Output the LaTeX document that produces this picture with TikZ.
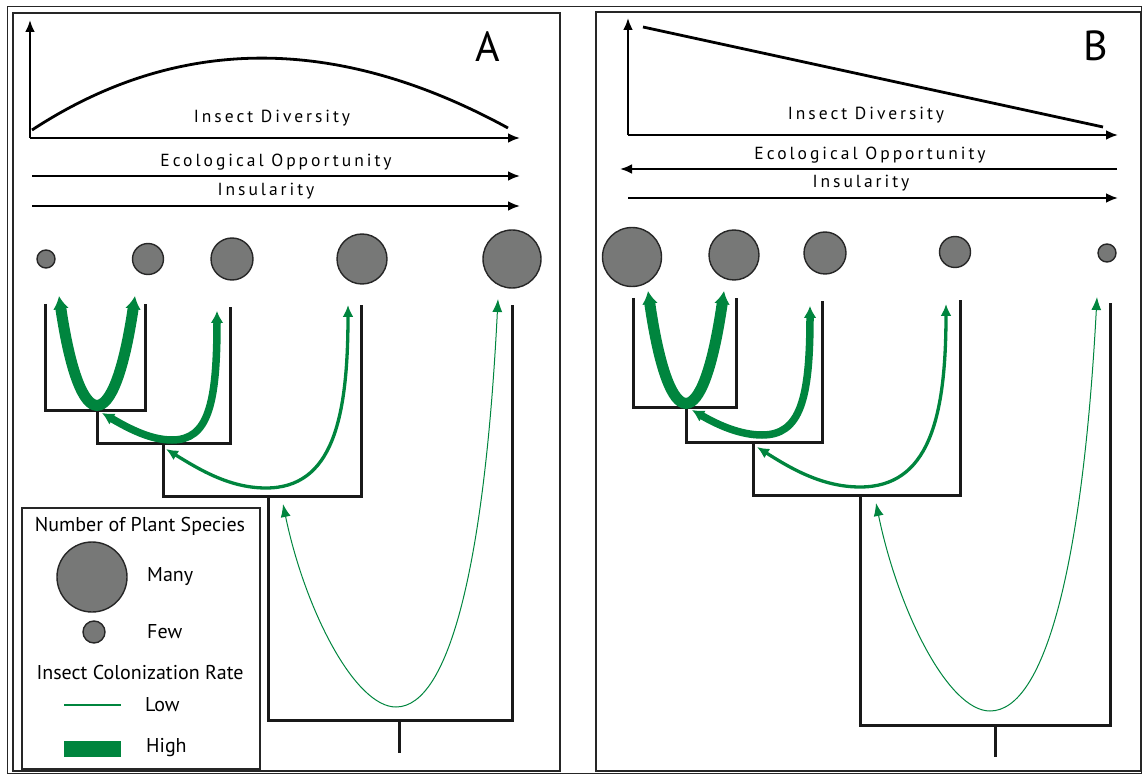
\documentclass[tikz,border=0pt]{standalone}
\usepackage{fontspec}
\setmainfont{PT Sans}
\usetikzlibrary{arrows.meta}
\definecolor{grn}{RGB}{0,133,62}
\definecolor{plantgray}{RGB}{119,120,119}
\begin{document}
\begin{tikzpicture}[x=1pt,y=-1pt,
  frame/.style={draw=black!85, line width=1.3pt},
  axis/.style={line width=2.8pt, -{Latex[length=12pt,width=10pt]}},
  branch/.style={draw=black!90, line width=3pt, line join=miter},
  plant/.style={circle, draw=black!85, line width=1.4pt, fill=plantgray, inner sep=0pt},
  spaced/.style={font=\fontsize{17.5}{17.5}\selectfont\addfontfeature{LetterSpace=17}},
  legtext/.style={font=\fontsize{20}{20}\selectfont, inner sep=0pt},
  hiarrow/.style={draw=grn, line width=11pt, {Latex[length=13pt,width=16pt]}-{Latex[length=13pt,width=16pt]}},
  midarrow/.style={draw=grn, line width=7.5pt, {Latex[length=12pt,width=13pt]}-{Latex[length=12pt,width=13pt]}},
  lowarrow/.style={draw=grn, line width=3.3pt, {Latex[length=12pt,width=11pt]}-{Latex[length=12pt,width=11pt]}},
  thinarrow/.style={draw=grn, line width=1pt, {Latex[length=13pt,width=10pt]}-{Latex[length=13pt,width=10pt]}},
  letter/.style={font=\fontsize{42}{42}\selectfont, inner sep=0pt}
]
\useasboundingbox (0,0) rectangle (1143,775);
% frames
\draw[frame, line width=1pt] (7,7) rectangle (1141,773);
\draw[frame] (13,13) rectangle (560,771);
\draw[frame] (596,12) rectangle (1141,771);

%%%%%%%%%%%%%%%% Panel A
\node[letter] (labA) at (488,47) {A};
\coordinate (Ao) at (30,138);
\coordinate (Ay) at (30,20);
\coordinate (Ax) at (520,138);
\draw[axis] (Ao) -- (Ay);
\draw[axis] (Ao) -- (Ax);
\coordinate (Ac0) at (32,130);
\coordinate (Ac1) at (508,128);
\draw[line width=2.8pt] (Ac0) .. controls (177,35) and (336,34) .. (Ac1);
\node[spaced] (AdivT) at (272,118) {Insect Diversity};
\node[spaced] (AecoT) at (276,162) {Ecological Opportunity};
\coordinate (Ae0) at (32,176); \coordinate (Ae1) at (520,176);
\draw[axis] (Ae0) -- (Ae1);
\node[spaced] (AinsT) at (266,191) {Insularity};
\coordinate (Ai0) at (32,206); \coordinate (Ai1) at (520,206);
\draw[axis] (Ai0) -- (Ai1);

% plants A
\node[plant, minimum size=18pt] (Ap1) at (46,259) {};
\node[plant, minimum size=31pt] (Ap2) at (148,259) {};
\node[plant, minimum size=42pt] (Ap3) at (232,259) {};
\node[plant, minimum size=50pt] (Ap4) at (362,259) {};
\node[plant, minimum size=58pt] (Ap5) at (512,259) {};

% tree A
\coordinate (AL1) at (45,304);  \coordinate (AL2) at (145,304);
\coordinate (AL3) at (230,307); \coordinate (AL4) at (361,305);
\coordinate (AL5) at (512,305);
\coordinate (AN1) at (97,410);  \coordinate (AN2) at (163,443);
\coordinate (AN3) at (268,496); \coordinate (AN4) at (399,720);
\coordinate (ARoot) at (399,753);
\draw[branch] (AL1) |- (AN1) -| (AL2);
\draw[branch] (AN1) -- (97,443) -| (AL3);
\draw[branch] (AN2) -- (163,496) -| (AL4);
\draw[branch] (AN3) -- (268,720) -| (AL5);
\draw[branch] (AN4) -- (ARoot);

% colonization arrows A
\coordinate (Ag1a) at (59,296); \coordinate (Ag1b) at (135,296);
\draw[hiarrow] (Ag1a) .. controls (80,438) and (114,438) .. (Ag1b);
\coordinate (Ag2a) at (102,413); \coordinate (Ag2b) at (217,311);
\draw[midarrow] (Ag2a) .. controls (128,428) and (150,440) .. (172,440) .. controls (208,440) and (217,405) .. (Ag2b);
\coordinate (Ag3a) at (166,449); \coordinate (Ag3b) at (348,305);
\draw[lowarrow] (Ag3a) .. controls (200,470) and (230,488) .. (266,488) .. controls (332,488) and (348,420) .. (Ag3b);
\coordinate (Ag4a) at (283,504); \coordinate (Ag4b) at (498,299);
\draw[thinarrow] (Ag4a) .. controls (305,610) and (355,707) .. (396,707) .. controls (450,707) and (485,560) .. (Ag4b);

% legend
\draw[frame, line width=1.2pt] (22,508) rectangle (260,769);
\node[legtext] (lg1) at (140,526) {Number of Plant Species};
\node[plant, minimum size=70pt] (lgBig) at (92,577) {};
\node[legtext, anchor=west] (lgMany) at (147,577) {Many};
\node[plant, minimum size=22pt] (lgSmall) at (94,632) {};
\node[legtext, anchor=west] (lgFew) at (147,632) {Few};
\node[legtext] (lg2) at (140,672) {Insect Colonization Rate};
\coordinate (lowA) at (64,705); \coordinate (lowB) at (121,705);
\draw[grn, line width=1.2pt] (lowA) -- (lowB);
\node[legtext, anchor=west] (lgLow) at (145,705) {Low};
\fill[grn] (64,741) rectangle (121,757);
\node[legtext, anchor=west] (lgHigh) at (146,748) {High};

%%%%%%%%%%%%%%%% Panel B
\node[letter] (labB) at (1096,46) {B};
\coordinate (Bo) at (628,135);
\coordinate (By) at (628,18);
\coordinate (Bx) at (1118,135);
\draw[axis] (Bo) -- (By);
\draw[axis] (Bo) -- (Bx);
\coordinate (Bl0) at (643,27); \coordinate (Bl1) at (1103,127);
\draw[line width=2.8pt] (Bl0) -- (Bl1);
\node[spaced] (BdivT) at (866,115) {Insect Diversity};
\node[spaced] (BecoT) at (870,155) {Ecological Opportunity};
\coordinate (Be0) at (1117,169); \coordinate (Be1) at (620,169);
\draw[axis] (Be0) -- (Be1);
\node[spaced] (BinsT) at (861,183) {Insularity};
\coordinate (Bi0) at (628,198); \coordinate (Bi1) at (1118,198);
\draw[axis] (Bi0) -- (Bi1);

% plants B
\node[plant, minimum size=59pt] (Bp1) at (632,257) {};
\node[plant, minimum size=50pt] (Bp2) at (734,255) {};
\node[plant, minimum size=42pt] (Bp3) at (825,253) {};
\node[plant, minimum size=31pt] (Bp4) at (955,252) {};
\node[plant, minimum size=18pt] (Bp5) at (1107,253) {};

% tree B
\coordinate (BL1) at (633,298);  \coordinate (BL2) at (736,298);
\coordinate (BL3) at (822,301); \coordinate (BL4) at (960,300);
\coordinate (BL5) at (1110,303);
\coordinate (BN1) at (686,407);  \coordinate (BN2) at (753,442);
\coordinate (BN3) at (860,495); \coordinate (BN4) at (995,725);
\coordinate (BRoot) at (995,757);
\draw[branch] (BL1) |- (BN1) -| (BL2);
\draw[branch] (BN1) -- (686,442) -| (BL3);
\draw[branch] (BN2) -- (753,495) -| (BL4);
\draw[branch] (BN3) -- (860,725) -| (BL5);
\draw[branch] (BN4) -- (BRoot);

% colonization arrows B
\coordinate (Bg1a) at (648,291); \coordinate (Bg1b) at (724,291);
\draw[hiarrow] (Bg1a) .. controls (669,437) and (703,437) .. (Bg1b);
\coordinate (Bg2a) at (692,410); \coordinate (Bg2b) at (810,306);
\draw[midarrow] (Bg2a) .. controls (718,425) and (740,435) .. (762,435) .. controls (800,435) and (810,400) .. (Bg2b);
\coordinate (Bg3a) at (757,447); \coordinate (Bg3b) at (946,304);
\draw[lowarrow] (Bg3a) .. controls (790,468) and (822,487) .. (860,487) .. controls (928,487) and (946,420) .. (Bg3b);
\coordinate (Bg4a) at (876,503); \coordinate (Bg4b) at (1097,297);
\draw[thinarrow] (Bg4a) .. controls (898,610) and (948,711) .. (990,711) .. controls (1046,711) and (1083,560) .. (Bg4b);
\end{tikzpicture}
\end{document}
